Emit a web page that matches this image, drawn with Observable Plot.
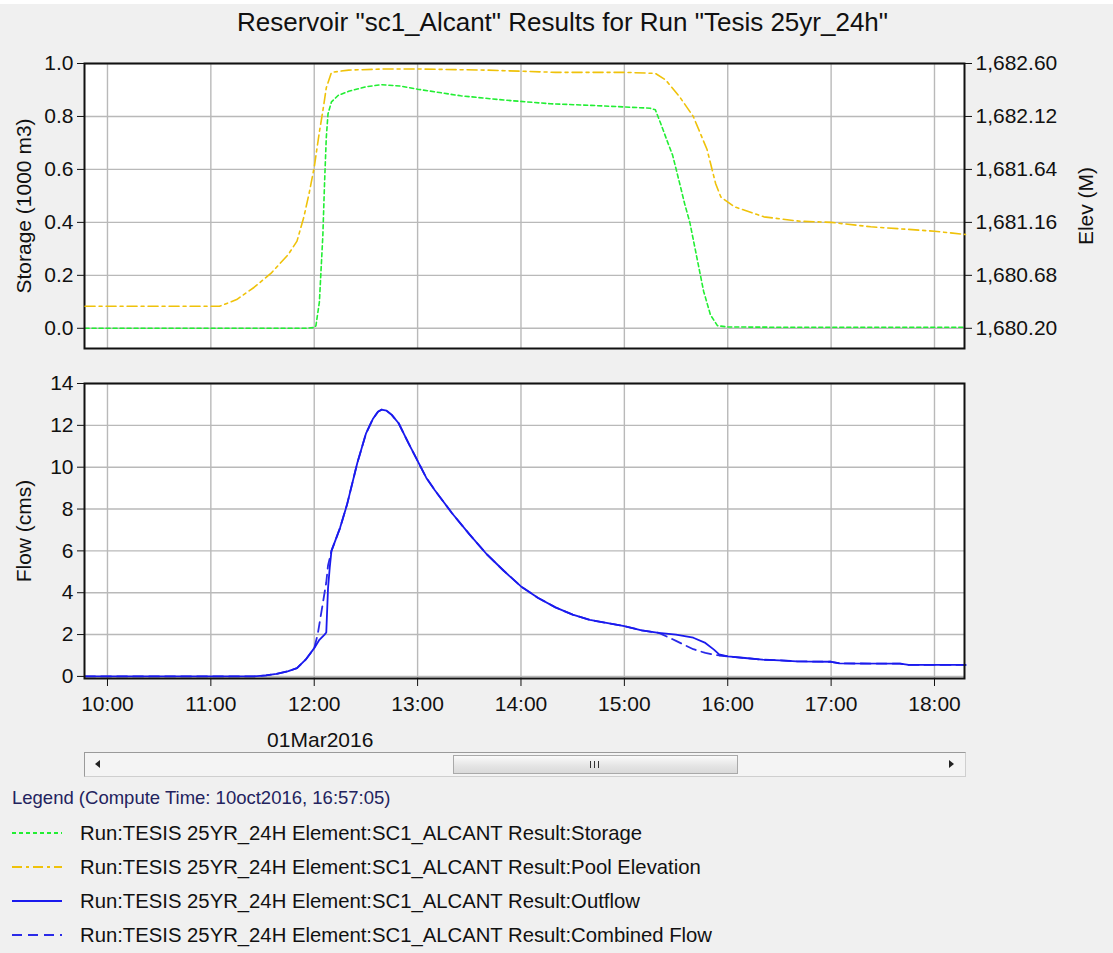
<!DOCTYPE html>
<html>
<head>
<meta charset="utf-8">
<script src="https://cdn.jsdelivr.net/npm/d3@7"></script>
<script src="https://cdn.jsdelivr.net/npm/@observablehq/plot@0.6"></script>
<style>
  html, body { margin: 0; padding: 0; background: #f0f0f0; }
  #page { position: relative; width: 1113px; height: 953px; background: #f0f0f0; overflow: hidden; font-family: "Liberation Sans", Arial, sans-serif; }
  .abs { position: absolute; }
  #topStrip { left: 0; top: 0; width: 1113px; height: 4px; background: #fff; }
  #title { left: 0; width: 1125px; top: 7px; text-align: center; font-size: 26px; color: #111; white-space: nowrap; }
  #top { left: 0; top: 0; width: 1113px; height: 360px; }
  #bottom { left: 0; top: 360px; width: 1113px; height: 400px; }
  #top svg, #bottom svg { max-width: none !important; }
  #scroll { left: 84px; top: 752px; width: 882px; height: 25px; box-sizing: border-box; border: 1px solid #9a9a9a; border-right-color: #cfcfcf; border-bottom-color: #cfcfcf; background: #f4f4f4; }
  #thumb { left: 368px; top: 2px; width: 285px; height: 19px; box-sizing: border-box; border: 1px solid #a9a9a9; background: linear-gradient(#fafafa, #e4e4e4 60%, #dadada); }
  .grip { top: 5px; width: 1px; height: 7px; background: #333; }
  .arrow { width: 0; height: 0; border-top: 4px solid transparent; border-bottom: 4px solid transparent; top: 7px; }
  #legendTitle { left: 12px; top: 787px; font-size: 18.5px; color: #23235e; white-space: nowrap; }
  .legRow { left: 12px; height: 30px; display: flex; align-items: center; white-space: nowrap; font-size: 20.3px; color: #111; }
  .legRow svg { margin-right: 16px; }
</style>
</head>
<body>
<div id="page">
  <div id="topStrip" class="abs"></div>
  <div id="title" class="abs">Reservoir "sc1_Alcant" Results for Run "Tesis 25yr_24h"</div>
  <div id="top" class="abs"></div>
  <div id="bottom" class="abs"></div>
  <div id="scroll" class="abs">
    <div class="abs arrow" style="left:10px;border-right:5px solid #222;"></div>
    <div id="thumb" class="abs">
      <div class="abs grip" style="left:136px"></div>
      <div class="abs grip" style="left:140px"></div>
      <div class="abs grip" style="left:144px"></div>
    </div>
    <div class="abs arrow" style="left:864px;border-left:5px solid #222;"></div>
  </div>
  <div id="legendTitle" class="abs">Legend (Compute Time: 10oct2016, 16:57:05)</div>
  <div id="legend"></div>
</div>
<script>
// ---------------- data ----------------
const day = "2016-03-01";
const xDomainTimes = ["09:46:40", "18:17:25"];
const hourTicks = ["10:00","11:00","12:00","13:00","14:00","15:00","16:00","17:00","18:00"];
const dateLabelTimes = ["12:00"];
const dateLabels = ["01Mar2016"];

const storageTicks = [0, 0.2, 0.4, 0.6, 0.8, 1.0];
const elevTicks = [1680.20, 1680.68, 1681.16, 1681.64, 1682.12, 1682.60];
const flowTicks = [0, 2, 4, 6, 8, 10, 12, 14];

const storageTime  = ["09:47","11:55","12:00","12:01","12:03","12:05","12:06","12:07","12:08","12:10","12:14","12:20","12:30","12:39","12:50","13:00","13:10","13:25","13:50","14:17","14:40","15:00","15:15","15:18","15:21","15:25","15:28","15:32","15:35","15:38","15:42","15:46","15:50","15:54","16:00","16:30","17:00","18:00","18:18"];
const storageValue = [0,0,0.003,0.01,0.1,0.35,0.55,0.72,0.81,0.855,0.88,0.895,0.912,0.92,0.915,0.903,0.893,0.878,0.862,0.848,0.842,0.836,0.831,0.825,0.775,0.705,0.654,0.55,0.47,0.40,0.27,0.14,0.05,0.01,0.005,0.004,0.004,0.004,0.004];

const poolTime = ["09:47","11:05","11:15","11:25","11:35","11:45","11:50","11:54","11:57","12:00","12:03","12:05","12:07","12:10","12:20","12:40","13:00","13:40","14:20","15:00","15:18","15:24","15:32","15:40","15:48","15:53","15:56","16:04","16:21","16:42","17:00","17:23","18:00","18:18"];
const poolElev = [1680.40,1680.40,1680.46,1680.57,1680.70,1680.87,1680.99,1681.21,1681.42,1681.66,1681.98,1682.17,1682.38,1682.52,1682.54,1682.55,1682.55,1682.54,1682.52,1682.52,1682.51,1682.45,1682.30,1682.12,1681.82,1681.51,1681.39,1681.30,1681.21,1681.17,1681.16,1681.12,1681.08,1681.05];

const outflowTime  = ["09:47","11:25","11:32","11:38","11:45","11:50","11:55","12:00","12:03","12:06","12:07","12:08","12:09","12:10","12:15","12:19","12:25","12:30","12:34","12:37","12:39","12:42","12:45","12:49","12:55","13:00","13:05","13:10","13:20","13:30","13:40","13:50","14:00","14:10","14:20","14:30","14:40","15:00","15:10","15:20","15:30","15:40","15:47","15:52","15:55","16:00","16:10","16:20","16:30","16:40","17:00","17:05","17:40","17:45","18:18"];
const outflowValue = [0,0,0.05,0.12,0.25,0.4,0.8,1.35,1.75,2.0,2.1,4.2,5.2,6.0,7.1,8.2,10.2,11.6,12.3,12.65,12.75,12.7,12.5,12.1,11.1,10.3,9.5,8.9,7.8,6.8,5.85,5.05,4.3,3.75,3.3,2.95,2.7,2.4,2.2,2.08,2.0,1.85,1.6,1.28,1.05,0.96,0.88,0.8,0.77,0.72,0.7,0.62,0.61,0.55,0.55];

const combinedTime  = ["09:47","11:25","11:32","11:38","11:45","11:50","11:55","12:00","12:02","12:05","12:07","12:08","12:10","12:15","12:19","12:25","12:30","12:34","12:37","12:39","12:42","12:45","12:49","12:55","13:00","13:05","13:10","13:20","13:30","13:40","13:50","14:00","14:10","14:20","14:30","14:40","15:00","15:10","15:20","15:30","15:40","15:47","15:52","15:55","16:00","16:10","16:20","16:30","16:40","17:00","17:05","17:40","17:45","18:18"];
const combinedValue = [0,0,0.05,0.12,0.25,0.4,0.8,1.35,2.0,3.5,4.5,5.3,6.0,7.1,8.2,10.2,11.6,12.3,12.65,12.75,12.7,12.5,12.1,11.1,10.3,9.5,8.9,7.8,6.8,5.85,5.05,4.3,3.75,3.3,2.95,2.7,2.4,2.2,2.08,1.7,1.3,1.12,1.04,1.0,0.96,0.88,0.8,0.77,0.72,0.7,0.62,0.61,0.55,0.55];

const seriesNames = [
  "Run:TESIS 25YR_24H Element:SC1_ALCANT Result:Storage",
  "Run:TESIS 25YR_24H Element:SC1_ALCANT Result:Pool Elevation",
  "Run:TESIS 25YR_24H Element:SC1_ALCANT Result:Outflow",
  "Run:TESIS 25YR_24H Element:SC1_ALCANT Result:Combined Flow"
];
const seriesColors = ["#22ee33", "#efc20a", "#1a1aee", "#2a2ae8"];
const seriesDash = ["4,3", "10,4,3,4", null, "10,6"];

// ---------------- helpers ----------------
const T = s => new Date(`${day}T${s.length === 5 ? s + ":00" : s}Z`);
const zip = (ts, vs) => ts.map((t, i) => ({t: T(t), v: vs[i]}));
const storage = zip(storageTime, storageValue);
const pool = zip(poolTime, poolElev);
const outflow = zip(outflowTime, outflowValue);
const combined = zip(combinedTime, combinedValue);
const xDomain = xDomainTimes.map(T);
const hourDates = hourTicks.map(T);
const dateLabelData = dateLabelTimes.map((t, i) => ({t: T(t), label: dateLabels[i]}));

const FONT = '"Liberation Sans", Arial, sans-serif';
const GRID = "#b9b9b9";
const W = 1113;
const FS = 21;
const storageMin = -0.0763;
const elevDomain = [elevTicks[0] + storageMin * (elevTicks[5] - elevTicks[0]), elevTicks[5]];

// ---------------- top panel (storage) ----------------
const topCommon = {
  width: W, height: 360, marginLeft: 84, marginRight: 149, marginTop: 63, marginBottom: 12,
  style: {background: "transparent", fontFamily: FONT, fontSize: FS + "px", color: "#111", overflow: "visible"}
};
const topPlot = Plot.plot({
  ...topCommon,
  x: {type: "utc", domain: xDomain, axis: null},
  y: {domain: [storageMin, 1.0]},
  marks: [
    Plot.frame({fill: "white", stroke: null}),
    Plot.gridX(hourDates, {stroke: GRID, strokeOpacity: 1, strokeWidth: 1.4}),
    Plot.gridY(storageTicks, {stroke: GRID, strokeOpacity: 1, strokeWidth: 1.4}),
    Plot.axisY(storageTicks, {tickFormat: d3.format(".1f"), tickSize: 7, tickPadding: 4,
      label: "Storage (1000 m3)", labelAnchor: "center", labelArrow: "none", labelOffset: 68, fontSize: FS}),
    Plot.line(storage, {x: "t", y: "v", stroke: seriesColors[0], strokeWidth: 1.6, strokeDasharray: seriesDash[0]}),
    Plot.frame({stroke: "#111", strokeWidth: 2})
  ]
});
topPlot.style.position = "absolute"; topPlot.style.left = "0"; topPlot.style.top = "0";
document.getElementById("top").append(topPlot);

const elevPlot = Plot.plot({
  ...topCommon,
  x: {type: "utc", domain: xDomain, axis: null},
  y: {domain: elevDomain},
  marks: [
    Plot.axisY(elevTicks, {anchor: "right", tickFormat: d3.format(",.2f"), tickSize: 7, tickPadding: 4,
      label: "Elev (M)", labelAnchor: "center", labelArrow: "none", labelOffset: 128, fontSize: FS}),
    Plot.line(pool, {x: "t", y: "v", stroke: seriesColors[1], strokeWidth: 1.6, strokeDasharray: seriesDash[1]})
  ]
});
elevPlot.style.position = "absolute"; elevPlot.style.left = "0"; elevPlot.style.top = "0";
document.getElementById("top").append(elevPlot);

// ---------------- bottom panel (flow) ----------------
const bottomPlot = Plot.plot({
  width: W, height: 400, marginLeft: 84, marginRight: 149, marginTop: 23, marginBottom: 82,
  style: {background: "transparent", fontFamily: FONT, fontSize: FS + "px", color: "#111", overflow: "visible"},
  x: {type: "utc", domain: xDomain},
  y: {domain: [-0.1, 14]},
  marks: [
    Plot.frame({fill: "white", stroke: null}),
    Plot.gridX(hourDates, {stroke: GRID, strokeOpacity: 1, strokeWidth: 1.4}),
    Plot.gridY(flowTicks, {stroke: GRID, strokeOpacity: 1, strokeWidth: 1.4}),
    Plot.axisY(flowTicks, {tickSize: 7, tickPadding: 4, label: "Flow (cms)", labelAnchor: "center",
      labelArrow: "none", labelOffset: 68, fontSize: FS}),
    Plot.axisX(hourDates, {tickFormat: d3.utcFormat("%H:%M"), tickSize: 8, tickPadding: 10, label: null, fontSize: FS}),
    Plot.text(dateLabelData, {x: "t", text: "label", frameAnchor: "bottom", dy: 68, dx: 6, fontSize: FS, fill: "#111"}),
    Plot.line(combined, {x: "t", y: "v", stroke: seriesColors[3], strokeWidth: 1.8, strokeDasharray: seriesDash[3]}),
    Plot.line(outflow, {x: "t", y: "v", stroke: seriesColors[2], strokeWidth: 1.8}),
    Plot.frame({stroke: "#111", strokeWidth: 2})
  ]
});
document.getElementById("bottom").append(bottomPlot);

// ---------------- legend ----------------
const legend = document.getElementById("legend");
const rowTops = [818, 852, 886, 920];
seriesNames.forEach((name, i) => {
  const row = document.createElement("div");
  row.className = "abs legRow";
  row.style.top = rowTops[i] + "px";
  const ns = "http://www.w3.org/2000/svg";
  const svg = document.createElementNS(ns, "svg");
  svg.setAttribute("width", 52); svg.setAttribute("height", 10);
  const ln = document.createElementNS(ns, "line");
  ln.setAttribute("x1", 0); ln.setAttribute("x2", 50); ln.setAttribute("y1", 5); ln.setAttribute("y2", 5);
  ln.setAttribute("stroke", seriesColors[i]); ln.setAttribute("stroke-width", 1.8);
  if (seriesDash[i]) ln.setAttribute("stroke-dasharray", seriesDash[i]);
  svg.append(ln);
  const span = document.createElement("span");
  span.textContent = name;
  row.append(svg, span);
  legend.append(row);
});
</script>
</body>
</html>
